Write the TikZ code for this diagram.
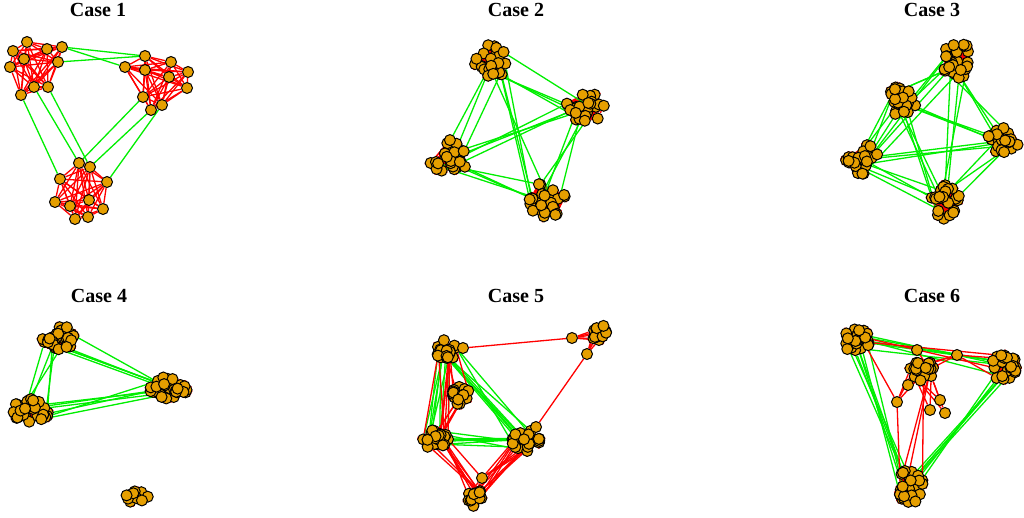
\documentclass[tikz,border=0pt]{standalone}
\usepackage{fontspec}
\setmainfont{Liberation Serif}
\pgfdeclarelayer{bg}
\pgfsetlayers{bg,main}
\definecolor{vorange}{RGB}{230,159,0}
\definecolor{egreen}{RGB}{0,238,0}
\definecolor{ered}{RGB}{255,0,0}
\tikzset{
  vtx/.style={circle, inner sep=0pt, minimum size=11pt, fill=vorange, draw=black, line width=1pt},
  inedge/.style={ered, line width=1.3pt},
  outedge/.style={egreen, line width=1.3pt},
  ttl/.style={anchor=base, font=\fontsize{20}{24}\selectfont\bfseries},
}
% clump of vertices: name, cx, cy, count, rx, ry
\newcommand\clump[6]{%
  \foreach \k in {1,...,#4}{%
    \pgfmathsetmacro\ru{sqrt(rnd)}%
    \pgfmathsetmacro\ra{360*rnd}%
    \pgfmathsetmacro\px{#2+#5*\ru*cos(\ra)}%
    \pgfmathsetmacro\py{#3+#6*\ru*sin(\ra)}%
    \node[vtx] (#1-\k) at (\px,\py) {};
  }%
  \begin{pgfonlayer}{bg}
    \foreach \i in {1,...,#4}{\foreach \j in {1,...,#4}{%
      \ifnum\j>\i\relax \draw[inedge] (#1-\i) -- (#1-\j);\fi}}
  \end{pgfonlayer}%
}
% random links between clumps: style, A, nA, B, nB, count
\newcommand\links[6]{%
  \begin{pgfonlayer}{bg}
    \foreach \k in {1,...,#6}{%
      \pgfmathtruncatemacro\ua{random(1,#3)}%
      \pgfmathtruncatemacro\ub{random(1,#5)}%
      \draw[#1] (#2-\ua) -- (#4-\ub);}
  \end{pgfonlayer}%
}
\begin{document}
\begin{tikzpicture}[x=1pt, y=-1pt]
    \useasboundingbox (0,0) rectangle (1024,517);
    \pgfmathsetseed{42}
    % Titles
    \node [ttl] (t1) at (98,16) {Case 1};
    \node [ttl] (t2) at (516,16) {Case 2};
    \node [ttl] (t3) at (932,16) {Case 3};
    \node [ttl] (t4) at (99,302) {Case 4};
    \node [ttl] (t5) at (516,302) {Case 5};
    \node [ttl] (t6) at (932,302) {Case 6};

    % Case 1
    \foreach \x/\y [count=\k] in {13/51, 27/42, 47/49, 62/47, 24/59, 10/67, 58/62, 34/87, 48/87, 21/95}
        \node [vtx] (c1a-\k) at (\x,\y) {};
    \foreach \x/\y [count=\k] in {145/56, 171/62, 125/67, 145/70, 188/72, 169/77, 187/88, 143/97, 151/110, 162/105}
        \node [vtx] (c1b-\k) at (\x,\y) {};
    \foreach \x/\y [count=\k] in {79/163, 90/167, 60/179, 107/182, 55/202, 70/206, 89/200, 103/209, 75/219, 88/217}
        \node [vtx] (c1c-\k) at (\x,\y) {};
    \begin{pgfonlayer}{bg}
        \foreach \g in {c1a, c1b, c1c}
            \foreach \i in {1,...,10}
                \foreach \j in {1,...,10}
                    {\ifnum\j>\i\relax \draw [inedge] (\g-\i) -- (\g-\j);\fi}
        \foreach \a/\b in {c1a-4/c1b-1, c1a-4/c1b-3, c1a-7/c1b-1,
                           c1a-10/c1c-3, c1a-8/c1c-1, c1a-9/c1c-2,
                           c1b-8/c1c-1, c1b-9/c1c-2, c1b-10/c1c-4}
            \draw [outedge] (\a) -- (\b);
    \end{pgfonlayer}

    % Case 2
    \clump{c2a}{492}{62}{26}{18}{19}
    \clump{c2b}{585}{107}{26}{19}{16}
    \clump{c2c}{449}{156}{26}{20}{18}
    \clump{c2d}{547}{200}{26}{18}{18}
    \links{outedge}{c2a}{26}{c2b}{26}{4}
    \links{outedge}{c2a}{26}{c2c}{26}{3}
    \links{outedge}{c2a}{26}{c2d}{26}{4}
    \links{outedge}{c2b}{26}{c2c}{26}{4}
    \links{outedge}{c2b}{26}{c2d}{26}{4}
    \links{outedge}{c2c}{26}{c2d}{26}{4}

    % Case 3
    \clump{c3a}{957}{60}{26}{16}{18}
    \clump{c3b}{902}{101}{26}{16}{15}
    \clump{c3c}{862}{159}{26}{18}{15}
    \clump{c3d}{1003}{140}{26}{16}{14}
    \clump{c3e}{946}{202}{26}{15}{17}
    \links{outedge}{c3a}{26}{c3b}{26}{4}
    \links{outedge}{c3a}{26}{c3c}{26}{3}
    \links{outedge}{c3a}{26}{c3d}{26}{3}
    \links{outedge}{c3a}{26}{c3e}{26}{3}
    \links{outedge}{c3b}{26}{c3c}{26}{4}
    \links{outedge}{c3b}{26}{c3d}{26}{3}
    \links{outedge}{c3b}{26}{c3e}{26}{4}
    \links{outedge}{c3c}{26}{c3d}{26}{3}
    \links{outedge}{c3c}{26}{c3e}{26}{4}
    \links{outedge}{c3d}{26}{c3e}{26}{3}

    % Case 4
    \clump{c4a}{59}{338}{30}{18}{12}
    \clump{c4b}{168}{388}{30}{21}{11}
    \clump{c4c}{30}{411}{30}{19}{12}
    \clump{c4d}{138}{497}{11}{14}{8}
    \links{outedge}{c4a}{30}{c4b}{30}{5}
    \links{outedge}{c4a}{30}{c4c}{30}{5}
    \links{outedge}{c4b}{30}{c4c}{30}{6}

    % Case 5
    \clump{c5a}{448}{350}{24}{12}{11}
    \clump{c5b}{461}{395}{16}{10}{10}
    \clump{c5c}{436}{440}{26}{13}{11}
    \clump{c5d}{526}{440}{26}{14}{11}
    \clump{c5e}{474}{497}{14}{8}{9}
    \clump{c5f}{600}{334}{14}{8}{9}
    \node [vtx] (c5p) at (463,348) {};
    \node [vtx] (c5q) at (572,338) {};
    \node [vtx] (c5r) at (587,354) {};
    \node [vtx] (c5s) at (482,478) {};
    \node [vtx] (c5t) at (536,427) {};
    \links{outedge}{c5a}{24}{c5c}{26}{8}
    \links{outedge}{c5a}{24}{c5d}{26}{8}
    \links{outedge}{c5c}{26}{c5d}{26}{9}
    \links{inedge}{c5a}{24}{c5c}{26}{6}
    \links{inedge}{c5b}{16}{c5c}{26}{5}
    \links{inedge}{c5a}{24}{c5b}{16}{3}
    \links{inedge}{c5c}{26}{c5e}{14}{8}
    \links{inedge}{c5d}{26}{c5e}{14}{8}
    \begin{pgfonlayer}{bg}
        \draw [inedge] (c5p) -- (c5q);
        \draw [inedge] (c5r) -- (c5t);
        \foreach \k in {1,...,5}
            {\draw [inedge] (c5q) -- (c5f-\k); \draw [inedge] (c5r) -- (c5f-\k);}
        \foreach \k in {1,...,4}
            {\draw [inedge] (c5s) -- (c5e-\k); \draw [inedge] (c5s) -- (c5d-\k);}
        \draw [inedge] (c5s) -- (c5c-3);
    \end{pgfonlayer}

    % Case 6
    \clump{c6a}{857}{340}{26}{14}{13}
    \clump{c6b}{1004}{367}{26}{14}{13}
    \clump{c6c}{911}{486}{28}{14}{17}
    \clump{c6d}{922}{370}{18}{12}{11}
    \foreach \x/\y [count=\k] in {917/350, 957/355, 897/402, 930/410, 945/413, 940/400, 908/385}
        \node [vtx] (c6x-\k) at (\x,\y) {};
    \links{outedge}{c6a}{26}{c6b}{26}{6}
    \links{outedge}{c6a}{26}{c6c}{28}{7}
    \links{outedge}{c6b}{26}{c6c}{28}{6}
    \links{inedge}{c6a}{26}{c6b}{26}{2}
    \links{inedge}{c6d}{18}{c6c}{28}{3}
    \begin{pgfonlayer}{bg}
        \draw [inedge] (c6a-1) -- (c6x-3);
        \draw [inedge] (c6x-3) -- (c6c-2);
        \foreach \k in {1,...,3}
            {\draw [inedge] (c6x-3) -- (c6d-\k); \draw [inedge] (c6x-2) -- (c6d-\k);}
        \draw [inedge] (c6x-2) -- (c6b-1);
        \draw [inedge] (c6x-2) -- (c6b-2);
        \draw [inedge] (c6x-1) -- (c6d-4);
        \foreach \p in {4,5,6,7}
            {\draw [inedge] (c6x-\p) -- (c6d-5); \draw [inedge] (c6x-\p) -- (c6d-6);}
    \end{pgfonlayer}
\end{tikzpicture}
\end{document}
